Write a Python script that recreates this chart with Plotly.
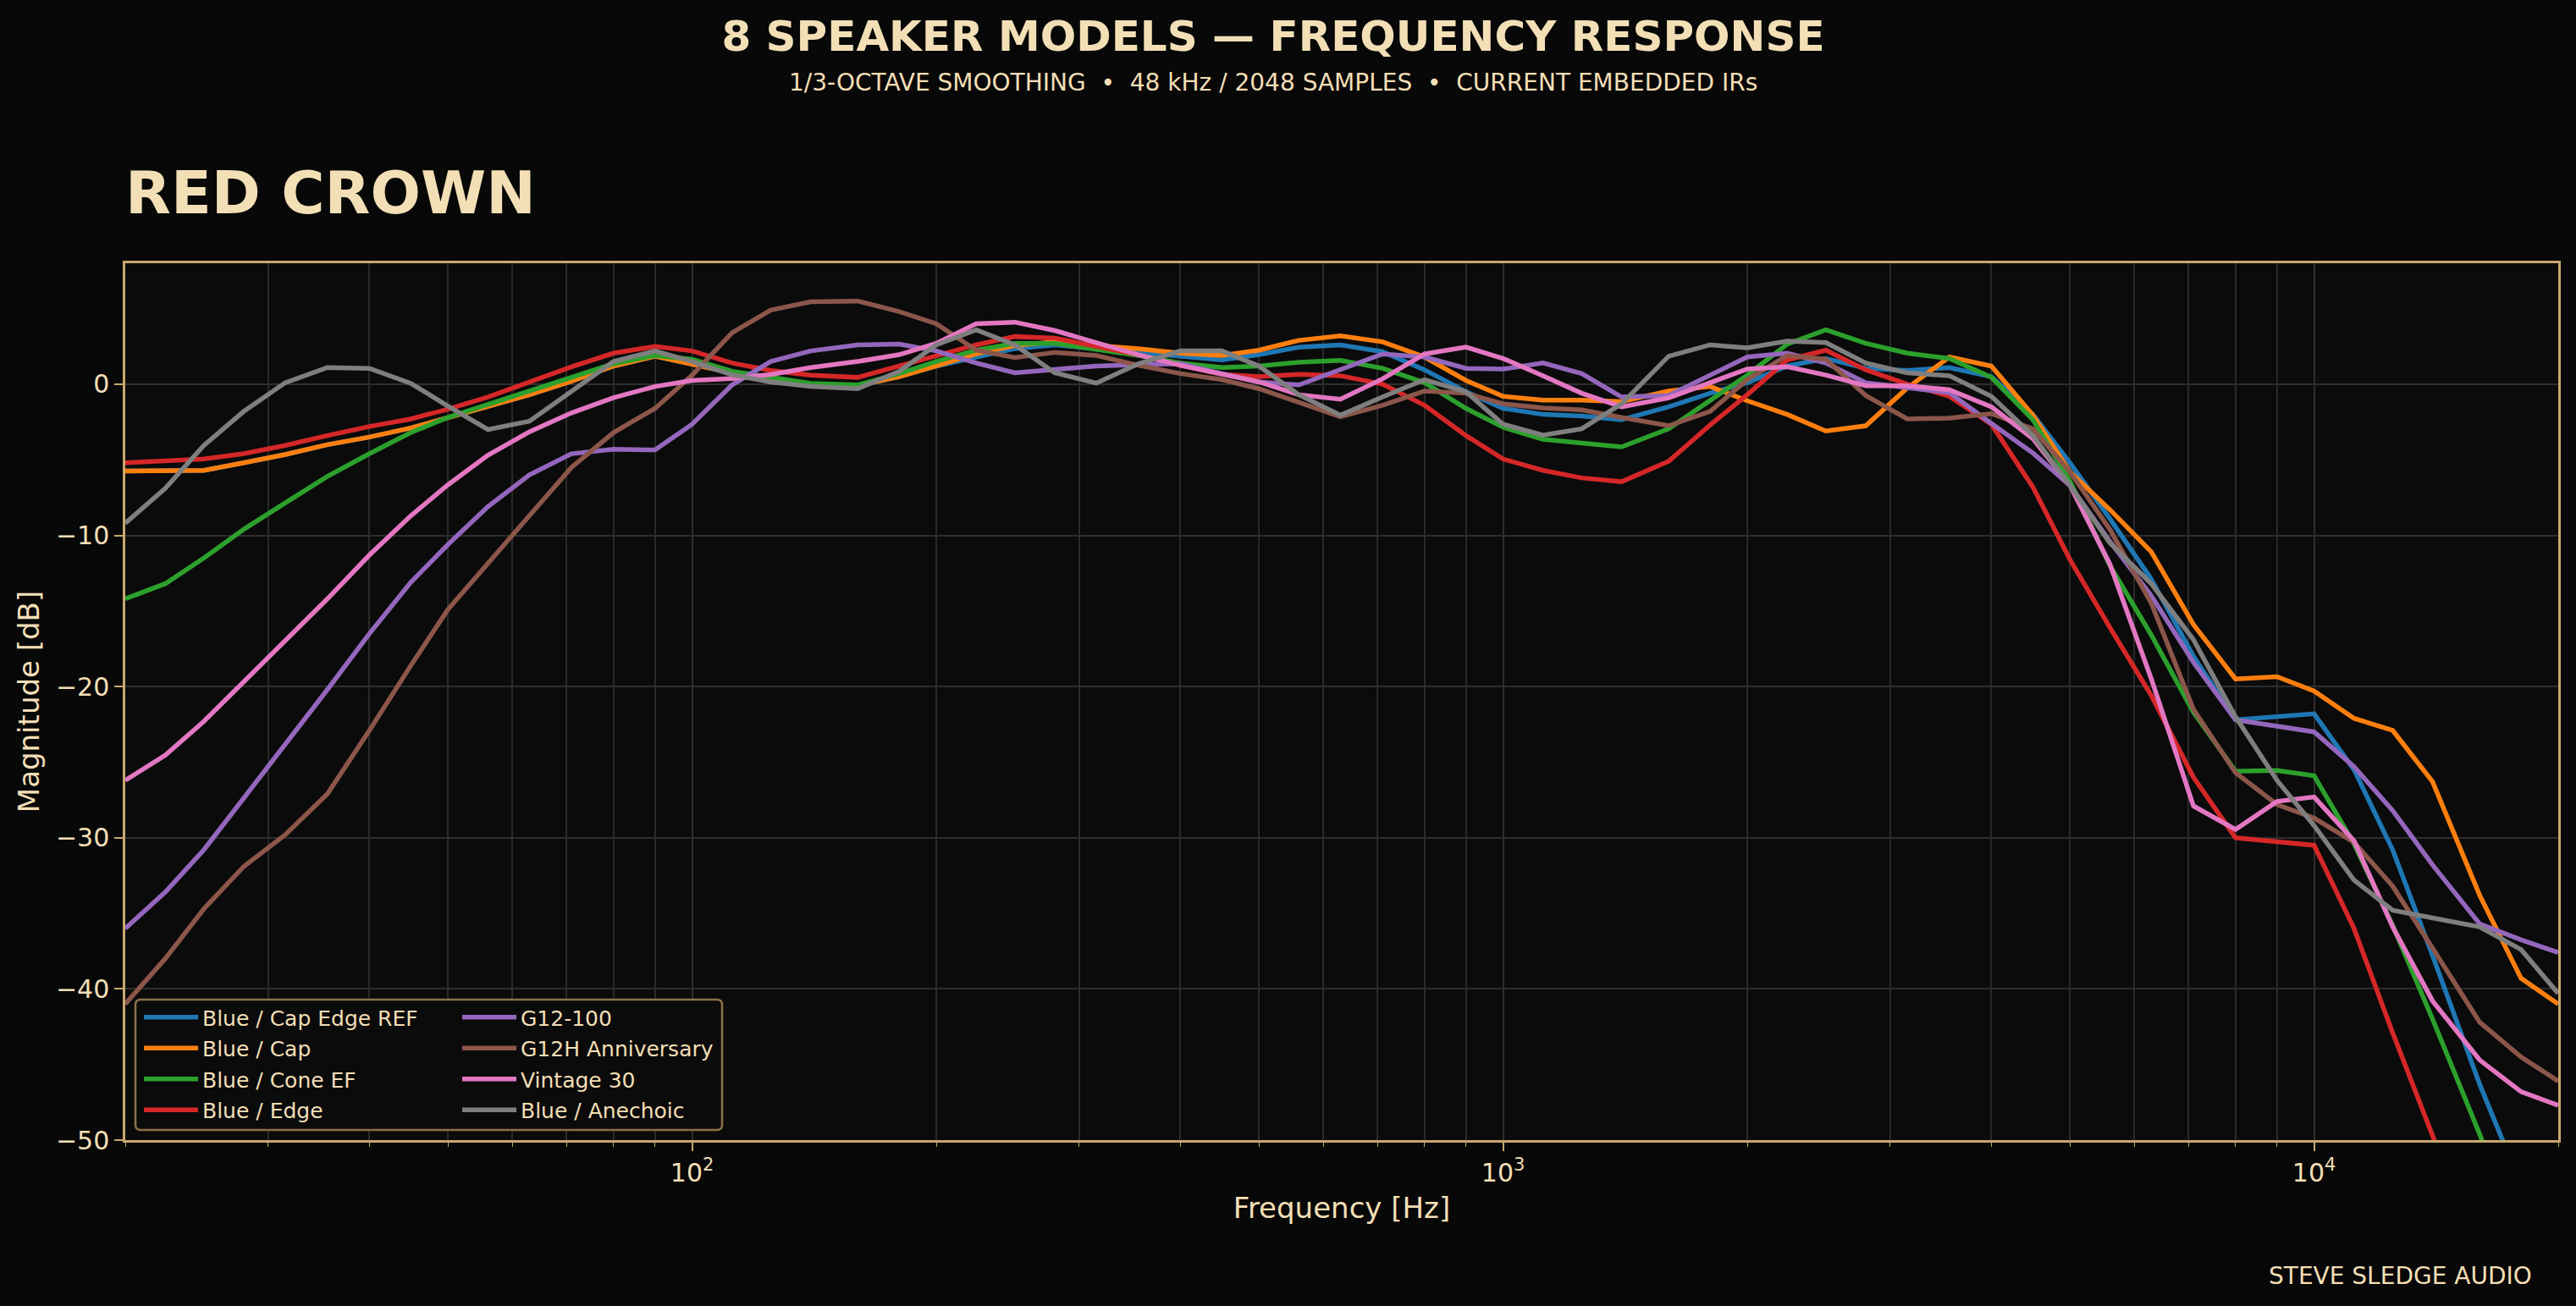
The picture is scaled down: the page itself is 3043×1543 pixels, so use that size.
import math
import plotly.graph_objects as go

# ---------------- data ----------------
freqs = [20, 22.4, 25, 28, 31.5, 35.5, 40, 45, 50, 56, 63, 71, 80, 90, 100, 112, 125, 140, 160, 180, 200,
         224, 250, 280, 315, 355, 400, 450, 500, 560, 630, 710, 800, 900, 1000, 1120, 1250, 1400, 1600, 1800, 2000,
         2240, 2500, 2800, 3150, 3550, 4000, 4500, 5000, 5600, 6300, 7100, 8000, 9000, 10000, 11200, 12500, 14000,
         16000, 18000, 20000]

blue_cap_edge_ref = [-5.75, -5.73, -5.7, -5.2, -4.65, -4.0, -3.5, -2.9, -2.2, -1.45, -0.7, 0.2, 1.2, 1.85, 1.35, 0.75, 0.15, -0.05, -0.1, 0.5, 1.2,
                     1.8, 2.35, 2.6, 2.35, 2.15, 1.85, 1.6, 1.95, 2.45, 2.6, 2.15, 0.95, -0.5, -1.6, -2.0, -2.1, -2.35, -1.5, -0.6, 0.1,
                     1.2, 1.7, 1.05, 0.9, 1.1, 0.5, -2.0, -5.2, -8.9, -12.9, -18.0, -22.2, -22.0, -21.8, -25.5, -30.8, -37.8, -46.3, -53.0, -59.0]

blue_cap = [-5.75, -5.73, -5.7, -5.2, -4.65, -4.0, -3.5, -2.9, -2.2, -1.45, -0.7, 0.2, 1.2, 1.85, 1.35, 0.75, 0.15, -0.05, -0.1, 0.5, 1.2,
            2.0, 2.55, 2.8, 2.55, 2.35, 2.05, 1.9, 2.25, 2.9, 3.2, 2.8, 1.8, 0.25, -0.8, -1.05, -1.05, -1.15, -0.45, -0.15, -1.1,
            -2.0, -3.1, -2.75, -0.25, 1.8, 1.2, -2.05, -5.8, -8.3, -11.1, -15.9, -19.5, -19.35, -20.3, -22.1, -22.9, -26.3, -33.8, -39.3, -41.0]

blue_cone_ef = [-14.2, -13.2, -11.5, -9.6, -7.85, -6.1, -4.6, -3.2, -2.2, -1.35, -0.45, 0.45, 1.35, 1.9, 1.65, 0.85, 0.45, 0.05, -0.05, 0.7, 1.5,
                2.25, 2.7, 2.7, 2.3, 1.9, 1.4, 1.1, 1.2, 1.45, 1.57, 1.05, 0.1, -1.6, -2.85, -3.65, -3.9, -4.15, -2.95, -1.1, 0.6,
                2.65, 3.6, 2.7, 2.05, 1.7, 0.45, -2.35, -6.4, -12.0, -16.6, -21.7, -25.6, -25.55, -25.9, -30.4, -35.8, -42.0, -49.6, -57.0, -64.0]

blue_edge = [-5.2, -5.1, -4.95, -4.6, -4.05, -3.4, -2.8, -2.3, -1.65, -0.85, 0.15, 1.15, 2.05, 2.5, 2.2, 1.4, 0.9, 0.6, 0.45, 1.2, 1.9,
             2.6, 3.15, 3.05, 2.5, 1.95, 1.25, 0.65, 0.5, 0.65, 0.56, 0.0, -1.4, -3.4, -4.95, -5.7, -6.2, -6.45, -5.1, -2.7, -0.7,
             1.6, 2.25, 0.95, 0.0, -0.8, -2.65, -6.8, -11.6, -16.1, -20.6, -26.0, -30.0, -30.3, -30.5, -36.0, -42.9, -49.7, -58.0, -65.0, -71.0]

g12_100 = [-36.0, -33.6, -30.8, -27.4, -23.9, -20.2, -16.5, -13.1, -10.6, -8.1, -6.0, -4.6, -4.3, -4.35, -2.65, -0.05, 1.5, 2.2, 2.6, 2.65, 2.2,
           1.4, 0.75, 0.95, 1.2, 1.3, 1.35, 0.7, 0.15, -0.05, 0.95, 2.0, 1.8, 1.05, 1.0, 1.4, 0.7, -0.85, -0.75, 0.6, 1.8,
           2.05, 1.4, 0.1, -0.26, -0.56, -2.6, -4.55, -6.7, -10.4, -14.0, -18.4, -22.2, -22.65, -23.0, -25.3, -28.2, -31.8, -35.7, -36.75, -37.6]

g12h_anniversary = [-41.0, -38.0, -34.7, -31.9, -29.8, -27.1, -22.9, -18.6, -14.9, -11.9, -8.7, -5.5, -3.2, -1.6, 0.6, 3.4, 4.9, 5.45, 5.5, 4.8, 4.0,
                    2.25, 1.76, 2.1, 1.9, 1.25, 0.7, 0.3, -0.3, -1.2, -2.15, -1.4, -0.45, -0.6, -1.3, -1.57, -1.7, -2.2, -2.75, -1.8, 0.3,
                    1.9, 1.65, -0.75, -2.3, -2.25, -1.95, -2.95, -5.8, -9.6, -14.5, -21.5, -25.7, -27.8, -28.7, -30.3, -33.2, -37.3, -42.2, -44.5, -46.1]

vintage_30 = [-26.2, -24.55, -22.3, -19.7, -17.0, -14.2, -11.3, -8.7, -6.65, -4.7, -3.15, -1.9, -0.9, -0.15, 0.25, 0.37, 0.64, 1.1, 1.5, 1.95, 2.7,
              4.0, 4.1, 3.55, 2.75, 1.95, 1.25, 0.7, 0.15, -0.7, -1.0, 0.35, 2.0, 2.45, 1.7, 0.55, -0.6, -1.5, -0.9, 0.1, 1.0,
              1.15, 0.6, -0.1, -0.1, -0.37, -1.5, -3.6, -6.7, -11.9, -19.5, -27.9, -29.45, -27.6, -27.3, -30.2, -35.9, -40.8, -44.7, -46.8, -47.7]

blue_anechoic = [-9.2, -6.9, -4.05, -1.8, 0.1, 1.1, 1.05, 0.05, -1.45, -3.0, -2.45, -0.5, 1.5, 2.2, 1.5, 0.62, 0.15, -0.15, -0.3, 0.85, 2.6,
                 3.6, 2.6, 0.75, 0.07, 1.35, 2.2, 2.2, 1.2, -0.7, -2.05, -0.85, 0.3, -0.5, -2.65, -3.37, -2.95, -1.3, 1.85, 2.6, 2.4,
                 2.85, 2.75, 1.4, 0.75, 0.56, -0.8, -3.4, -6.7, -10.5, -13.2, -16.9, -22.0, -26.2, -29.2, -32.8, -34.8, -35.3, -35.9, -37.4, -40.3]

series_names = ["Blue / Cap Edge REF", "Blue / Cap", "Blue / Cone EF", "Blue / Edge",
                "G12-100", "G12H Anniversary", "Vintage 30", "Blue / Anechoic"]
series_values = [blue_cap_edge_ref, blue_cap, blue_cone_ef, blue_edge,
                 g12_100, g12h_anniversary, vintage_30, blue_anechoic]

major_ticks = [100, 1000, 10000]
major_tick_text = ["10<sup>2</sup>", "10<sup>3</sup>", "10<sup>4</sup>"]
minor_ticks = [20, 30, 40, 50, 60, 70, 80, 90, 200, 300, 400, 500, 600, 700, 800, 900,
               2000, 3000, 4000, 5000, 6000, 7000, 8000, 9000, 20000]
y_ticks = [-50, -40, -30, -20, -10, 0]

# ---------------- style ----------------
colors = ["#1f77b4", "#ff7f0e", "#2ca02c", "#d62728", "#9467bd", "#8c564b", "#e377c2", "#7f7f7f"]
WHEAT = "#f3dfb6"
TAN = "#c8a86e"
GRID = "#2e2e2e"
GRID_MINOR = "#2a2a2a"
FONT = "DejaVu Sans"

W, H = 3043, 1543
ML, MR, MT, MB = 148, 21, 311, 196
PW, PH = W - ML - MR, H - MT - MB


def px2x(px):
    return (px - ML) / PW


def py2y(py):
    return (H - MB - py) / PH


fig = go.Figure()
for i, (name, vals) in enumerate(zip(series_names, series_values)):
    fig.add_trace(go.Scatter(
        x=freqs, y=vals, mode="lines", name=name,
        line=dict(color=colors[i], width=5.5),
        legend="legend" if i < 4 else "legend2",
        legendgroup=name,
    ))

legend_common = dict(
    xanchor="left", yanchor="top", bgcolor="rgba(0,0,0,0)", borderwidth=0,
    font=dict(family=FONT, size=25, color=WHEAT), tracegroupgap=1, itemwidth=64,
)

# legend frame (rounded rectangle)
bx0, bx1, by0, by1 = px2x(160), px2x(853), py2y(1335), py2y(1181)
rx, ry = 6 / PW, 6 / PH
path = (f"M{bx0+rx},{by0} L{bx1-rx},{by0} Q{bx1},{by0} {bx1},{by0+ry} "
        f"L{bx1},{by1-ry} Q{bx1},{by1} {bx1-rx},{by1} L{bx0+rx},{by1} "
        f"Q{bx0},{by1} {bx0},{by1-ry} L{bx0},{by0+ry} Q{bx0},{by0} {bx0+rx},{by0} Z")

fig.update_layout(
    template="none",
    width=W, height=H,
    margin=dict(l=ML, r=MR, t=MT, b=MB, autoexpand=False),
    paper_bgcolor="#080808",
    plot_bgcolor="#0b0b0b",
    font=dict(family=FONT, color=WHEAT),
    title=dict(
        text="8 SPEAKER MODELS — FREQUENCY RESPONSE",
        x=1504 / W, xref="container", xanchor="center",
        y=1 - 42 / H, yref="container", yanchor="middle",
        font=dict(family=FONT, size=50, color=WHEAT, weight="bold"),
    ),
    xaxis=dict(
        type="log", range=[math.log10(20), math.log10(20000)],
        tickvals=major_ticks, ticktext=major_tick_text,
        ticks="outside", ticklen=10, tickwidth=1.5, tickcolor=TAN,
        tickfont=dict(family=FONT, size=30, color=WHEAT),
        showgrid=True, gridcolor=GRID, gridwidth=2,
        showline=True, linecolor=TAN, linewidth=2.5, mirror=True,
        zeroline=False, automargin=False,
        minor=dict(tickvals=minor_ticks, ticks="outside", ticklen=5, tickwidth=1.2,
                   tickcolor=TAN, showgrid=True, gridcolor=GRID_MINOR, gridwidth=2),
        title=dict(text="Frequency [Hz]", font=dict(family=FONT, size=34, color=WHEAT), standoff=14),
    ),
    yaxis=dict(
        range=[-50, 8], tickvals=y_ticks,
        ticks="outside", ticklen=10, tickwidth=1.5, tickcolor=TAN,
        tickfont=dict(family=FONT, size=30, color=WHEAT),
        showgrid=True, gridcolor=GRID, gridwidth=2,
        showline=True, linecolor=TAN, linewidth=2.5, mirror=True,
        zeroline=False, automargin=False,
        title=dict(text="Magnitude [dB]", font=dict(family=FONT, size=34, color=WHEAT), standoff=10),
    ),
    legend=dict(x=px2x(165), y=py2y(1179), **legend_common),
    legend2=dict(x=px2x(541), y=py2y(1179), **legend_common),
    shapes=[dict(type="path", path=path, xref="paper", yref="paper",
                 fillcolor="#0b0b0b", line=dict(color="#8a7248", width=2.5), layer="above")],
    annotations=[
        dict(text="1/3-OCTAVE SMOOTHING\u00a0\u00a0•\u00a0\u00a048 kHz / 2048 SAMPLES\u00a0\u00a0•\u00a0\u00a0CURRENT EMBEDDED IRs",
             x=px2x(1504), y=py2y(97), xref="paper", yref="paper",
             xanchor="center", yanchor="middle", showarrow=False,
             font=dict(family=FONT, size=28, color=WHEAT)),
        dict(text="RED CROWN", x=px2x(146), y=py2y(228), xref="paper", yref="paper",
             xanchor="left", yanchor="middle", showarrow=False,
             font=dict(family=FONT, size=70, color=WHEAT, weight="bold")),
        dict(text="STEVE SLEDGE AUDIO", x=px2x(2993), y=py2y(1507), xref="paper", yref="paper",
             xanchor="right", yanchor="middle", showarrow=False,
             font=dict(family=FONT, size=28, color=WHEAT)),
    ],
)

fig.write_html("out.html")
